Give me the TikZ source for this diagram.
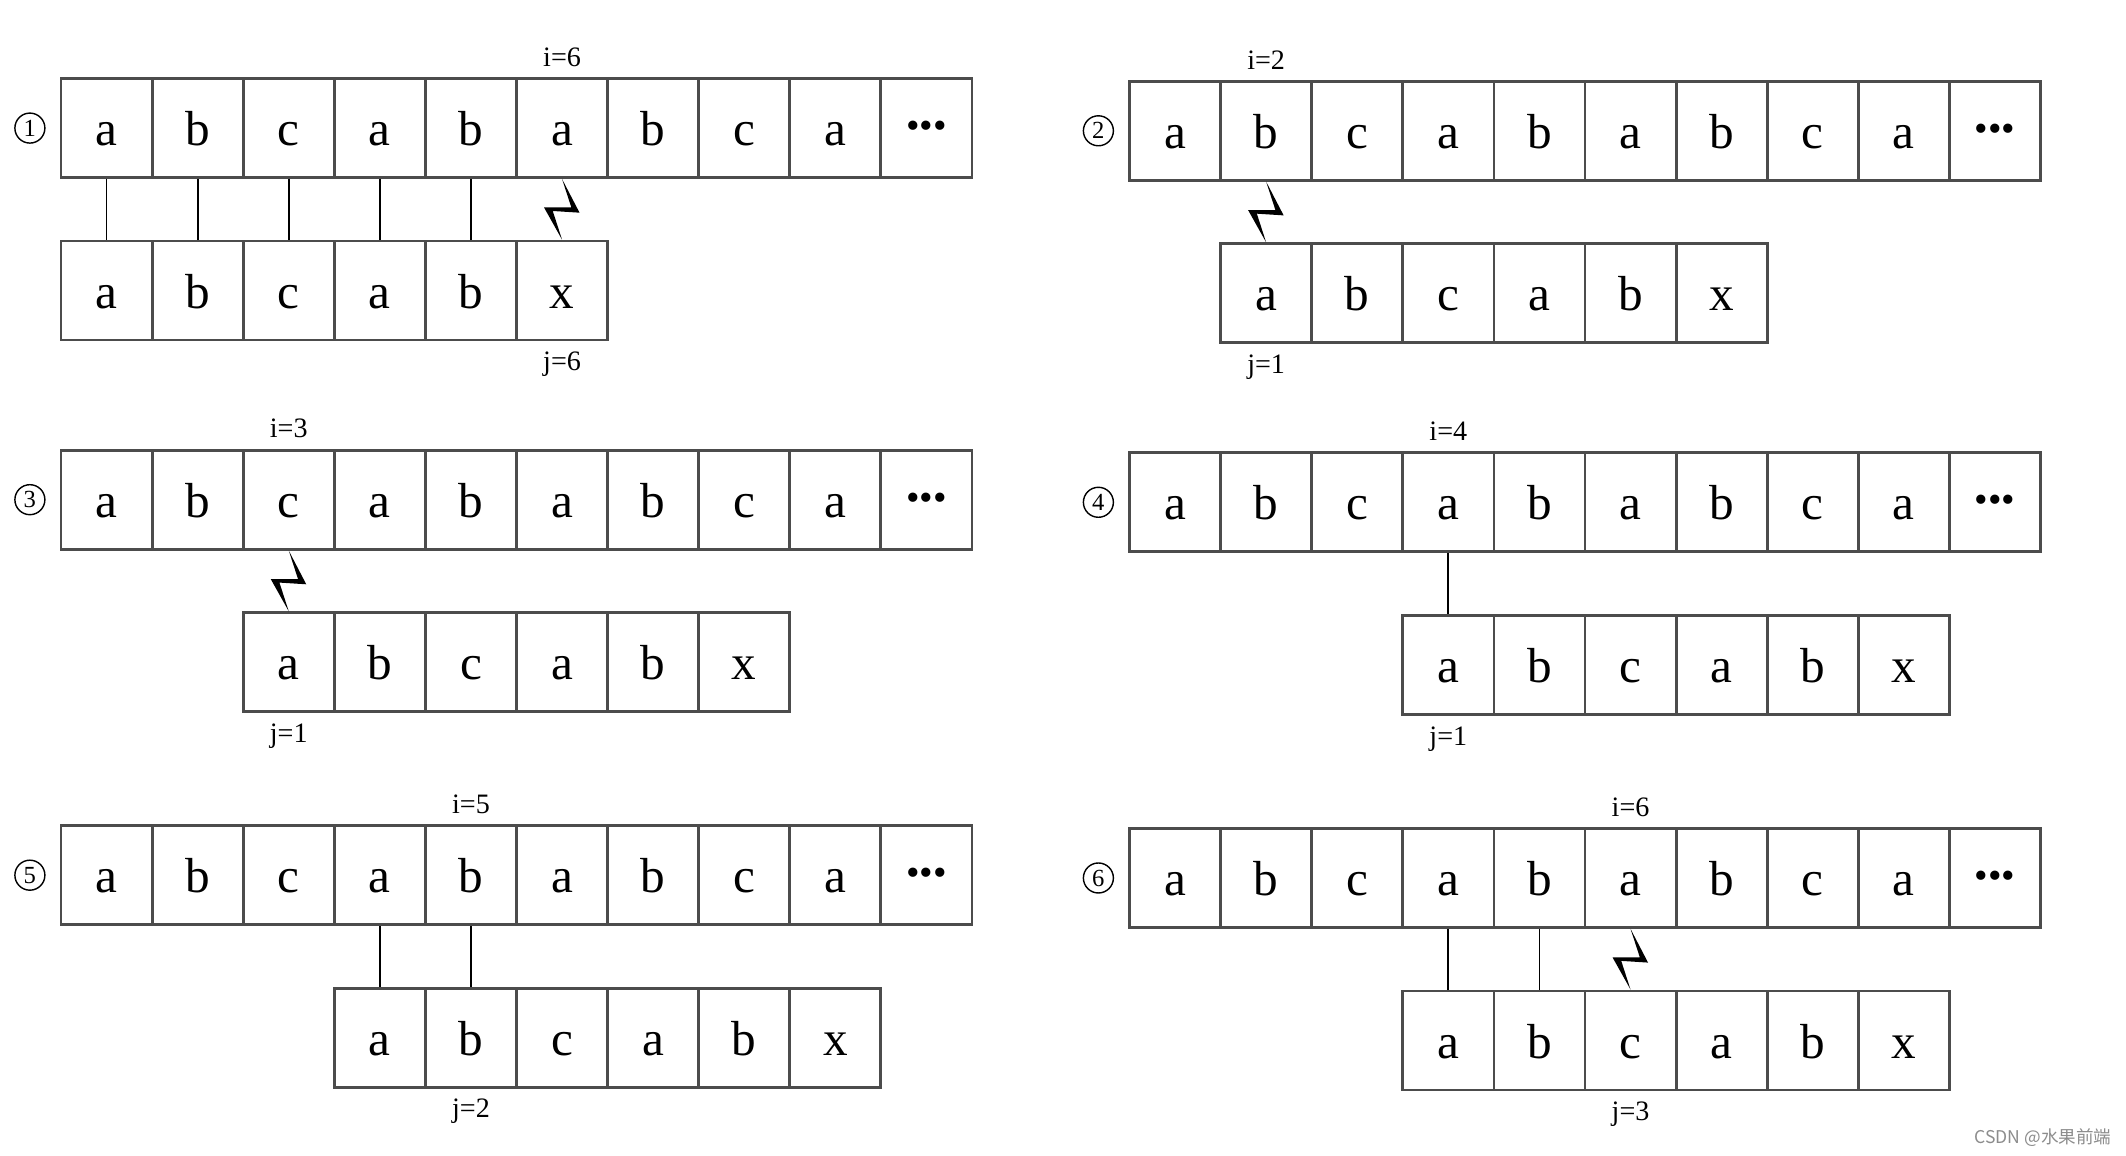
\documentclass[tikz,border=0pt]{standalone}
\usepackage{fontspec}
\setmainfont{Liberation Serif}
\newfontfamily\cjkfont{Noto Sans CJK SC}
\usetikzlibrary{calc,positioning}
\tikzset{
	cell/.style={draw=black!70, line width=0.8pt, minimum width=0.911cm, minimum height=0.99cm, inner sep=0pt, text height=10pt, text depth=0pt, font=\fontsize{14}{16}\selectfont},
	idx/.style={inner sep=0pt, font=\fontsize{8}{9}\selectfont},
	num/.style={circle, draw, line width=0.4pt, minimum size=0.3cm, inner sep=0pt, font=\fontsize{7}{8}\selectfont},
	match/.style={line width=0.5pt},
	watermark/.style={text=black!45, inner sep=0pt, font=\cjkfont\fontsize{5}{6}\selectfont}
}
\def\dotsym{\raisebox{2pt}{\fontsize{11}{12}\selectfont •••}}
\def\cellrow#1#2#3{\foreach \ch [count=\k] in {#3} {\node[cell, xshift={(\k-1)*0.911cm}] (#2\k) at #1 {\ch};}}
\def\bolt#1#2{\fill (#1.south) -- ($(#1.south)+(0.175,-0.337)$) -- ($(#1.south)+(-0.093,-0.32)$) -- (#2.north) -- ($(#1.south)+(-0.18,-0.285)$) -- ($(#1.south)+(0.093,-0.285)$) -- cycle;}

\begin{document}
\begin{tikzpicture}
		\useasboundingbox (0,0) rectangle (21.26,-11.56);
		%%%%% STEP 1 %%%%%
		\cellrow{(1.0655,-1.281)}{p1t}{a,b,c,a,b,a,b,c,a,\dotsym}
		\cellrow{($(p1t1)+(0,-1.625)$)}{p1b}{a,b,c,a,b,x}
		\node[num, left=0.14cm of p1t1] (p1n) {1};
		\node[idx, above=0.1cm of p1t6] (p1i) {i=6};
		\node[idx, below=0.1cm of p1b6] (p1j) {j=6};
		\foreach \k in {1,...,5} \draw[match] (p1t\k) -- (p1b\k);
		\bolt{p1t6}{p1b6}
		
		%%%%% STEP 2 %%%%%
		\cellrow{(11.7505,-1.308)}{p2t}{a,b,c,a,b,a,b,c,a,\dotsym}
		\cellrow{($(p2t2)+(0,-1.625)$)}{p2b}{a,b,c,a,b,x}
		\node[num, left=0.14cm of p2t1] (p2n) {2};
		\node[idx, above=0.1cm of p2t2] (p2i) {i=2};
		\node[idx, below=0.1cm of p2b1] (p2j) {j=1};
		\bolt{p2t2}{p2b1}
		
		%%%%% STEP 3 %%%%%
		\cellrow{(1.0655,-4.997)}{p3t}{a,b,c,a,b,a,b,c,a,\dotsym}
		\cellrow{($(p3t3)+(0,-1.625)$)}{p3b}{a,b,c,a,b,x}
		\node[num, left=0.14cm of p3t1] (p3n) {3};
		\node[idx, above=0.1cm of p3t3] (p3i) {i=3};
		\node[idx, below=0.1cm of p3b1] (p3j) {j=1};
		\bolt{p3t3}{p3b1}
		
		%%%%% STEP 4 %%%%%
		\cellrow{(11.7505,-5.023)}{p4t}{a,b,c,a,b,a,b,c,a,\dotsym}
		\cellrow{($(p4t4)+(0,-1.625)$)}{p4b}{a,b,c,a,b,x}
		\node[num, left=0.14cm of p4t1] (p4n) {4};
		\node[idx, above=0.1cm of p4t4] (p4i) {i=4};
		\node[idx, below=0.1cm of p4b1] (p4j) {j=1};
		\draw[match] (p4t4) -- (p4b1);
		
		%%%%% STEP 5 %%%%%
		\cellrow{(1.0655,-8.752)}{p5t}{a,b,c,a,b,a,b,c,a,\dotsym}
		\cellrow{($(p5t4)+(0,-1.625)$)}{p5b}{a,b,c,a,b,x}
		\node[num, left=0.14cm of p5t1] (p5n) {5};
		\node[idx, above=0.1cm of p5t5] (p5i) {i=5};
		\node[idx, below=0.1cm of p5b2] (p5j) {j=2};
		\draw[match] (p5t4) -- (p5b1);
		\draw[match] (p5t5) -- (p5b2);
		
		%%%%% STEP 6 %%%%%
		\cellrow{(11.7505,-8.78)}{p6t}{a,b,c,a,b,a,b,c,a,\dotsym}
		\cellrow{($(p6t4)+(0,-1.625)$)}{p6b}{a,b,c,a,b,x}
		\node[num, left=0.14cm of p6t1] (p6n) {6};
		\node[idx, above=0.1cm of p6t6] (p6i) {i=6};
		\node[idx, below=0.1cm of p6b3] (p6j) {j=3};
		\draw[match] (p6t4) -- (p6b1);
		\draw[match] (p6t5) -- (p6b2);
		\bolt{p6t6}{p6b3}
		
		\node[watermark, anchor=east] (wm) at (21.12,-11.375) {CSDN @水果前端};
\end{tikzpicture}
\end{document}
